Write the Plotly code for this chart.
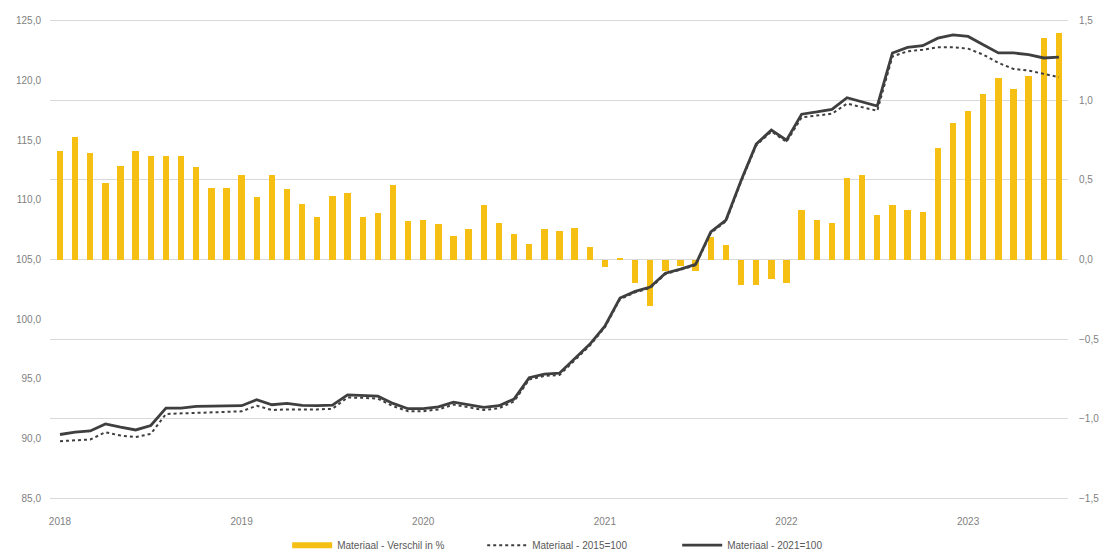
import plotly.graph_objects as go

years = ["2018", "2019", "2020", "2021", "2022", "2023"]
months = [f"{y}-{m:02d}" for y in range(2018, 2024) for m in range(1, 13)][:67]

verschil = [0.68, 0.77, 0.67, 0.48, 0.59, 0.68, 0.65, 0.65, 0.65, 0.58, 0.45, 0.45,
            0.53, 0.39, 0.53, 0.44, 0.35, 0.27, 0.40, 0.42, 0.27, 0.29, 0.47, 0.24,
            0.25, 0.22, 0.15, 0.19, 0.34, 0.23, 0.16, 0.10, 0.19, 0.18, 0.20, 0.08,
            -0.05, 0.01, -0.15, -0.29, -0.07, -0.04, -0.07, 0.14, 0.09, -0.16, -0.16, -0.12,
            -0.15, 0.31, 0.25, 0.23, 0.51, 0.53, 0.28, 0.34, 0.31, 0.30, 0.70, 0.86,
            0.93, 1.04, 1.14, 1.07, 1.15, 1.39, 1.42]

idx_2015 = [89.79, 89.85, 89.93, 90.54, 90.26, 90.13, 90.40, 92.07, 92.12, 92.20, 92.25, 92.27,
            92.29, 92.76, 92.40, 92.45, 92.42, 92.45, 92.50, 93.45, 93.42, 93.35, 92.72, 92.30,
            92.30, 92.45, 92.85, 92.62, 92.40, 92.55, 93.12, 94.95, 95.25, 95.33, 96.52, 97.78,
            99.32, 101.68, 102.25, 102.62, 103.78, 104.12, 104.52, 107.22, 108.20, 111.50, 114.55, 115.72,
            114.85, 116.90, 117.05, 117.20, 118.05, 117.75, 117.45, 122.00, 122.43, 122.56, 122.76, 122.76,
            122.65, 122.15, 121.46, 120.95, 120.82, 120.54, 120.26]

idx_2021 = [90.35, 90.54, 90.65, 91.23, 90.96, 90.73, 91.10, 92.56, 92.56, 92.70, 92.73, 92.76,
            92.76, 93.26, 92.84, 92.95, 92.79, 92.76, 92.81, 93.67, 93.62, 93.56, 92.95, 92.51,
            92.51, 92.67, 93.06, 92.84, 92.62, 92.76, 93.31, 95.10, 95.40, 95.48, 96.65, 97.90,
            99.42, 101.77, 102.33, 102.69, 103.85, 104.19, 104.60, 107.32, 108.30, 111.61, 114.66, 115.83,
            114.99, 117.16, 117.35, 117.57, 118.54, 118.20, 117.85, 122.29, 122.76, 122.90, 123.53, 123.81,
            123.67, 122.98, 122.29, 122.29, 122.15, 121.87, 121.95]

x = list(range(len(months)))
year_pos = [months.index(f"{y}-01") for y in years]

BAR_COLOR = "#F5BF14"
LINE_COLOR = "#3F3F3F"

fig = go.Figure()
fig.add_trace(go.Bar(x=x, y=verschil, name="Materiaal - Verschil in %",
                     marker=dict(color=BAR_COLOR, line=dict(width=0)),
                     width=0.42, yaxis="y", hovertext=months, showlegend=False))
# legend entry with a wide flat swatch for the bars
fig.add_trace(go.Scatter(x=[None], y=[None], name="Materiaal - Verschil in %", mode="lines",
                         line=dict(color=BAR_COLOR, width=6), yaxis="y"))
fig.add_trace(go.Scatter(x=x, y=idx_2015, name="Materiaal - 2015=100", mode="lines",
                         line=dict(color=LINE_COLOR, width=2, dash="dot"), yaxis="y2", hovertext=months))
fig.add_trace(go.Scatter(x=x, y=idx_2021, name="Materiaal - 2021=100", mode="lines",
                         line=dict(color=LINE_COLOR, width=2.8), yaxis="y2", hovertext=months))

tickfont = dict(family="Liberation Sans", size=10, color="#7F7F7F")

fig.update_layout(
    width=1104, height=554,
    margin=dict(l=50, r=36, t=19, b=54, autoexpand=False),
    paper_bgcolor="white", plot_bgcolor="white",
    separators=",.",
    showlegend=True,
    bargap=0,
    legend=dict(orientation="h", x=0.233, xanchor="left", y=-0.124, yanchor="bottom",
                font=dict(family="Liberation Sans", size=10, color="#595959"),
                traceorder="normal", itemwidth=40, entrywidth=140),
    xaxis=dict(range=[-0.66, 66.6], tickvals=year_pos, ticktext=years,
               showgrid=False, zeroline=False, showline=False, ticks="",
               tickfont=tickfont, automargin=False, ticklabelstandoff=14),
    yaxis=dict(side="right", range=[-1.51, 1.51], tickvals=[-1.5, -1.0, -0.5, 0, 0.5, 1.0, 1.5],
               tickformat=".1f",
               showgrid=True, gridcolor="#D9D9D9", gridwidth=1, zeroline=False,
               showline=False, ticks="", tickfont=tickfont, automargin=False,
               ticklabelstandoff=10),
    yaxis2=dict(side="left", overlaying="y", range=[84.8667, 125.1333],
                tickvals=[85, 90, 95, 100, 105, 110, 115, 120, 125], tickformat=".1f",
                showgrid=False, zeroline=False, showline=False, ticks="",
                tickfont=tickfont, automargin=False, ticklabelstandoff=8),
)

fig.write_html("out.html", config={"displayModeBar": False},
               post_script="document.body.style.margin='0';")
